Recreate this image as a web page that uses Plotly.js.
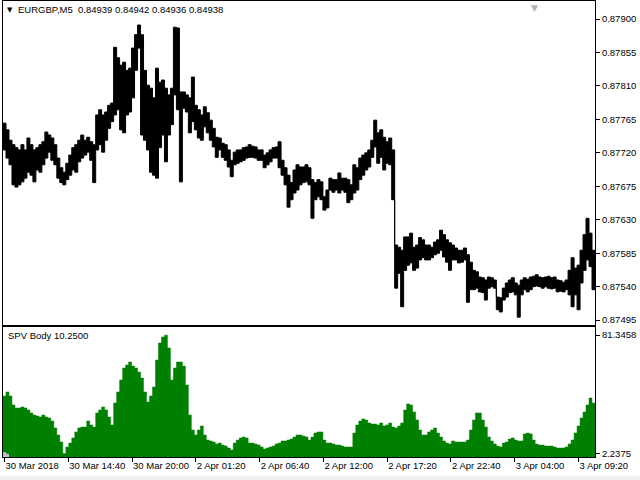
<!DOCTYPE html>
<html><head><meta charset="utf-8">
<script src="https://cdn.plot.ly/plotly-3.0.1.min.js"></script>
<style>html,body{margin:0;padding:0;background:#fff}#chart{width:640px;height:480px}</style>
</head><body><div id="chart"></div>
<script>
// one sample every 3 M5 bars
const barStep = 3;
const priceHigh = [
0.87760,0.87751,0.87737,0.87731,0.87727,0.87724,0.87731,0.87724,0.87740,0.87731,
0.87724,0.87727,0.87731,0.87735,0.87748,0.87744,0.87740,0.87731,0.87713,0.87700,
0.87694,0.87706,0.87717,0.87727,0.87731,0.87737,0.87744,0.87737,0.87741,0.87735,
0.87731,0.87771,0.87778,0.87771,0.87775,0.87784,0.87787,0.87862,0.87848,0.87838,
0.87842,0.87831,0.87834,0.87861,0.87879,0.87892,0.87879,0.87831,0.87811,0.87807,
0.87794,0.87834,0.87815,0.87818,0.87807,0.87798,0.87807,0.87889,0.87888,0.87802,
0.87802,0.87798,0.87794,0.87822,0.87784,0.87778,0.87771,0.87782,0.87774,0.87764,
0.87753,0.87741,0.87740,0.87733,0.87731,0.87724,0.87710,0.87721,0.87724,0.87724,
0.87727,0.87728,0.87731,0.87729,0.87728,0.87724,0.87724,0.87717,0.87720,0.87724,
0.87727,0.87728,0.87735,0.87710,0.87700,0.87690,0.87680,0.87697,0.87704,0.87701,
0.87701,0.87704,0.87700,0.87684,0.87680,0.87684,0.87681,0.87661,0.87670,0.87686,
0.87684,0.87684,0.87693,0.87686,0.87686,0.87684,0.87677,0.87704,0.87700,0.87713,
0.87717,0.87720,0.87724,0.87737,0.87764,0.87747,0.87751,0.87741,0.87735,0.87740,
0.87724,0.87596,0.87593,0.87589,0.87607,0.87607,0.87612,0.87593,0.87596,0.87606,
0.87603,0.87596,0.87596,0.87593,0.87600,0.87603,0.87616,0.87610,0.87603,0.87599,
0.87596,0.87592,0.87589,0.87589,0.87592,0.87583,0.87573,0.87562,0.87560,0.87553,
0.87552,0.87549,0.87553,0.87552,0.87549,0.87526,0.87525,0.87538,0.87545,0.87549,
0.87552,0.87545,0.87542,0.87549,0.87552,0.87550,0.87553,0.87554,0.87556,0.87553,
0.87552,0.87553,0.87554,0.87552,0.87553,0.87549,0.87548,0.87546,0.87549,0.87562,
0.87579,0.87565,0.87569,0.87589,0.87610,0.87632,0.87612,0.87589];
const priceLow = [
0.87724,0.87713,0.87704,0.87677,0.87674,0.87677,0.87681,0.87686,0.87694,0.87690,
0.87681,0.87697,0.87694,0.87704,0.87713,0.87721,0.87710,0.87704,0.87686,0.87680,
0.87677,0.87684,0.87690,0.87697,0.87694,0.87708,0.87713,0.87717,0.87721,0.87710,
0.87680,0.87724,0.87731,0.87721,0.87737,0.87753,0.87762,0.87771,0.87778,0.87751,
0.87747,0.87771,0.87775,0.87794,0.87831,0.87861,0.87744,0.87737,0.87724,0.87694,
0.87690,0.87686,0.87727,0.87744,0.87708,0.87744,0.87758,0.87798,0.87778,0.87681,
0.87780,0.87775,0.87747,0.87762,0.87751,0.87740,0.87737,0.87755,0.87747,0.87737,
0.87728,0.87714,0.87724,0.87714,0.87710,0.87701,0.87688,0.87704,0.87706,0.87708,
0.87710,0.87713,0.87714,0.87714,0.87713,0.87710,0.87710,0.87700,0.87704,0.87708,
0.87713,0.87713,0.87700,0.87690,0.87677,0.87647,0.87657,0.87666,0.87670,0.87677,
0.87680,0.87681,0.87677,0.87632,0.87657,0.87661,0.87657,0.87643,0.87646,0.87670,
0.87667,0.87670,0.87666,0.87670,0.87667,0.87653,0.87657,0.87666,0.87670,0.87684,
0.87690,0.87697,0.87701,0.87714,0.87728,0.87706,0.87714,0.87697,0.87706,0.87704,
0.87657,0.87538,0.87558,0.87513,0.87562,0.87569,0.87572,0.87562,0.87565,0.87576,
0.87579,0.87576,0.87576,0.87579,0.87583,0.87585,0.87589,0.87580,0.87573,0.87562,
0.87576,0.87576,0.87572,0.87573,0.87576,0.87519,0.87536,0.87536,0.87538,0.87533,
0.87532,0.87522,0.87538,0.87540,0.87538,0.87509,0.87506,0.87522,0.87526,0.87532,
0.87533,0.87529,0.87499,0.87529,0.87536,0.87533,0.87536,0.87540,0.87541,0.87540,
0.87538,0.87540,0.87538,0.87537,0.87538,0.87533,0.87534,0.87533,0.87536,0.87529,
0.87513,0.87529,0.87509,0.87545,0.87562,0.87576,0.87567,0.87536];
const spvBody = [
40.7,43.4,40.7,34.7,32.7,32.7,33.4,32.7,31.4,29.4,
28.0,27.4,26.7,28.0,26.7,26.0,24.0,19.4,14.7,10.0,
2.3,6.7,9.3,12.7,16.7,19.4,20.0,20.0,24.0,21.4,
20.0,29.4,31.4,33.4,31.4,26.7,21.4,36.0,43.4,51.4,
59.4,61.4,63.4,60.7,59.4,56.7,52.7,43.4,36.7,40.7,
46.7,64.7,76.1,80.1,81.3,72.7,51.4,59.4,63.4,63.4,
60.7,48.1,28.0,18.0,14.7,18.0,20.7,14.7,11.3,10.7,
10.0,8.7,9.3,8.0,7.3,6.0,4.7,9.3,11.3,12.7,
13.3,12.7,9.3,9.3,8.7,8.0,6.7,5.3,6.0,6.7,
7.3,8.7,9.3,10.7,10.7,11.3,12.0,13.3,14.7,14.7,
14.0,13.3,11.3,13.3,16.0,16.7,16.7,11.3,9.3,9.3,
8.7,8.0,8.0,7.3,6.7,6.7,6.7,16.0,21.4,24.0,
25.4,24.7,22.7,22.0,22.0,21.4,22.7,20.7,21.4,22.7,
20.0,19.4,20.7,22.7,31.4,35.4,34.7,30.0,24.7,18.0,
14.7,14.7,16.7,18.0,19.4,16.0,13.3,10.7,9.3,8.7,
10.7,10.0,10.0,10.0,10.0,11.3,18.0,24.7,29.4,29.4,
24.7,20.0,13.3,10.7,8.7,7.3,6.7,9.3,10.0,12.0,
12.7,11.3,10.7,10.7,15.4,16.0,15.4,11.3,8.7,8.0,
8.0,7.3,7.3,7.3,6.7,6.0,6.0,6.0,6.7,8.7,
11.3,16.0,20.7,26.0,30.0,34.7,39.4,36.0];
const spvAux = [3.0, 2.0];
const priceTicks = [0.87900,0.87855,0.87810,0.87765,0.87720,0.87675,0.87630,0.87585,0.87540,0.87495];
const timeTickBars = [0,64,128,192,256,320,384,448,512,576];
const timeTickLabels = ['30 Mar 2018','30 Mar 14:40','30 Mar 20:00','2 Apr 01:20','2 Apr 06:40','2 Apr 12:00','2 Apr 17:20','2 Apr 22:40','3 Apr 04:00','3 Apr 09:20'];
const spvTicks = [2.2375, 81.3458];
const symbolText = 'EURGBP,M5\u00a0\u00a00.84939 0.84942 0.84936 0.84938';
const indicatorText = 'SPV Body 10.2500';

// step edges: each sample spans barStep bars centred on its bar index
const idx = priceHigh.map((_, k) => k * barStep);
const edges = arr => idx.map(b => b - barStep / 2).concat([idx[idx.length - 1] + barStep / 2]);
const ext = arr => arr.concat([arr[arr.length - 1]]);

const FONT = 'Liberation Sans, Arial, sans-serif';
const traces = [
  {type:'scatter', mode:'lines', x:edges(priceLow), y:ext(priceLow), xaxis:'x', yaxis:'y',
   line:{color:'#000', width:1, shape:'hv'}, hoverinfo:'skip'},
  {type:'scatter', mode:'lines', x:edges(priceHigh), y:ext(priceHigh), xaxis:'x', yaxis:'y',
   line:{color:'#000', width:1, shape:'hv'}, fill:'tonexty', fillcolor:'#000', hoverinfo:'skip'},
  {type:'scatter', mode:'lines', x:edges(spvBody), y:ext(spvBody), xaxis:'x2', yaxis:'y2',
   line:{color:'#008000', width:0.5, shape:'hv'}, fill:'tozeroy', fillcolor:'#008000', hoverinfo:'skip'},
  {type:'scatter', mode:'lines', x:edges(spvAux).slice(0, spvAux.length + 1), y:ext(spvAux),
   xaxis:'x2', yaxis:'y2', line:{color:'#c0c0c0', width:0.5, shape:'hv'}, fill:'tozeroy',
   fillcolor:'#c0c0c0', hoverinfo:'skip'}
];
const xr = [-1.5, 592.5];
const layout = {
  width:640, height:480, margin:{l:3, r:45, t:1, b:23},
  paper_bgcolor:'#fff', plot_bgcolor:'#fff', showlegend:false,
  font:{family:FONT, size:10, color:'#000'},
  xaxis:{domain:[0,1], anchor:'y', range:xr, showticklabels:false, ticks:'', showgrid:false,
    zeroline:false, showline:true, mirror:true, linecolor:'#000', linewidth:1},
  yaxis:{domain:[0.2884,1], anchor:'x', side:'right', range:[0.874878, 0.879243],
    tickvals:priceTicks, ticktext:priceTicks.map(v => v.toFixed(5)), ticks:'outside', ticklen:4,
    tickcolor:'#000', showgrid:false, zeroline:false, showline:true, mirror:true, linecolor:'#000',
    linewidth:1, tickfont:{family:FONT, size:9.5}},
  xaxis2:{domain:[0,1], anchor:'y2', range:xr, tickvals:timeTickBars, ticktext:timeTickLabels,
    ticks:'outside', ticklen:4, tickcolor:'#000', ticklabelposition:'outside right', tickangle:0,
    showgrid:false, zeroline:false, showline:true, mirror:true, linecolor:'#000', linewidth:1,
    tickfont:{family:FONT, size:9.5}},
  yaxis2:{domain:[0,0.284], anchor:'x2', side:'right', range:[0, 86.42], tickvals:spvTicks,
    ticktext:spvTicks.map(v => v.toFixed(4)), ticks:'outside', ticklen:4, tickcolor:'#000',
    showgrid:false, zeroline:false, showline:true, mirror:true, linecolor:'#000', linewidth:1,
    tickfont:{family:FONT, size:9.5}},
  annotations:[
    {xref:'paper', yref:'paper', x:0.004, y:0.9803, xanchor:'left', yanchor:'middle', showarrow:false,
     text:'\u25BC', font:{family:'DejaVu Sans', size:7, color:'#000'}},
    {xref:'paper', yref:'paper', x:0.0225, y:0.9803, xanchor:'left', yanchor:'middle', showarrow:false,
     text:symbolText, font:{family:FONT, size:9.5, color:'#000'}},
    {xref:'paper', yref:'paper', x:0.0055, y:0.2654, xanchor:'left', yanchor:'middle', showarrow:false,
     text:indicatorText, font:{family:FONT, size:9.5, color:'#000'}},
    {xref:'paper', yref:'paper', x:0.897, y:1.0, xanchor:'center', yanchor:'top', showarrow:false,
     text:'\u25BC', font:{family:'DejaVu Sans', size:9, color:'#b4b4b4'}}
  ],
  shapes:[
    {type:'rect', xref:'paper', yref:'paper', x0:-0.01, x1:1.08, y0:-0.06, y1:-0.042,
     fillcolor:'#efefef', line:{width:0}, layer:'below'}
  ]
};
Plotly.newPlot('chart', traces, layout, {displayModeBar:false, staticPlot:true});
</script></body></html>
